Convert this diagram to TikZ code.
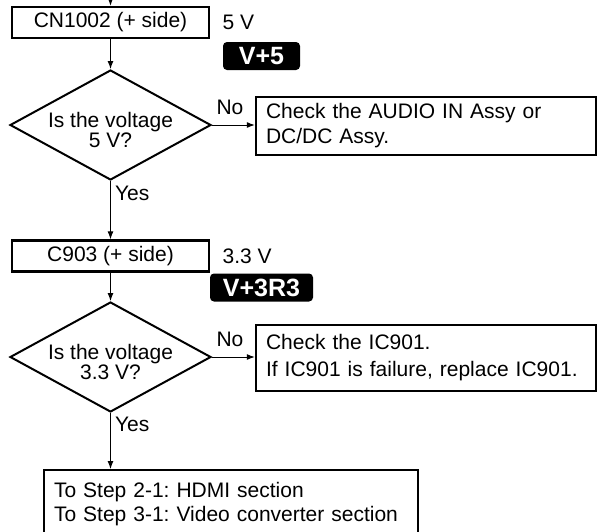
\documentclass[tikz,border=0pt]{standalone}
\usepackage{fontspec}
\setmainfont{Liberation Sans}
\usetikzlibrary{arrows.meta,positioning,shapes.geometric}
\frenchspacing

\begin{document}
\begin{tikzpicture}[
  x=0.5pt, y=-0.5pt,
  font=\fontsize{10.5}{12.5}\selectfont,
  >={Latex[length=4pt,width=3pt]},
  flow/.style={->, line width=0.5pt},
  probe/.style={
    draw, line width=1.2pt, minimum width=98.5pt, minimum height=15.5pt,
    inner sep=0pt
  },
  ask/.style={
    draw, diamond, line width=1pt, shape aspect=1.83, inner sep=-2pt,
    minimum width=100.5pt, minimum height=55pt, align=center,
    text height=23pt, font=\fontsize{10.5}{10}\selectfont
  },
  fix/.style={
    draw, line width=1.2pt, align=left, inner xsep=5pt, text width=160pt
  },
  volt/.style={inner sep=0pt},
  rail/.style={
    fill=black, rounded corners=2pt, text=white, inner sep=0pt,
    minimum height=14pt, font=\fontsize{12.5}{14}\selectfont\bfseries
  },
  tag/.style={inner sep=2pt},
]

\useasboundingbox (0,0) rectangle (597,531);
\clip (0,0) rectangle (597,531);

% ---------- 5 V check ----------
\coordinate (in) at (110.5,0);
\node[probe] (cn) at (110.5,22.5) {CN1002 (+ side)};
\node[volt, right=6pt of cn] (cnv) {5 V};
\node[rail, minimum width=38.5pt] (v5) at (261.5,56) {V+5};

\node[ask] (q5) at (110.5,125) {Is the voltage\\5 V?};
\node[fix, minimum height=29pt] (chk5) at (426,126)
  {Check the AUDIO IN Assy or\\DC/DC Assy.};

% ---------- 3.3 V check ----------
\node[probe] (c903) at (110.5,256) {C903 (+ side)};
\node[volt, right=6pt of c903] (c903v) {3.3 V};
\node[rail, minimum width=51.5pt] (v3r3) at (261.5,287.5) {V+3R3};

\node[ask] (q33) at (110.5,357) {Is the voltage\\3.3 V?};
\node[fix, minimum height=33pt, font=\fontsize{10.5}{13.5}\selectfont]
  (chk33) at (426,358)
  {Check the IC901.\\If IC901 is failure, replace IC901.};

% ---------- next steps ----------
\node[fix, anchor=north, text width=177pt, minimum height=33.5pt,
      font=\fontsize{10.5}{12}\selectfont] (next) at (231,469)
  {To Step 2-1: HDMI section\\To Step 3-1: Video converter section};

% ---------- connectors ----------
\draw[flow] (in) -- (cn);
\draw[flow] (cn) -- (q5);
\draw[flow] (q5.east) -- node[tag, above=3pt, pos=.42] (no5) {No}
  (q5.east -| chk5.west);
\draw[flow] (q5) -- node[tag, right, pos=.21] (yes5) {Yes} (c903);
\draw[flow] (c903) -- (q33);
\draw[flow] (q33.east) -- node[tag, above=3pt, pos=.42] (no33) {No}
  (q33.east -| chk33.west);
\draw[flow] (q33.south) -- node[tag, right, pos=.21] (yes33) {Yes}
  (q33.south |- next.north);

\end{tikzpicture}
\end{document}
